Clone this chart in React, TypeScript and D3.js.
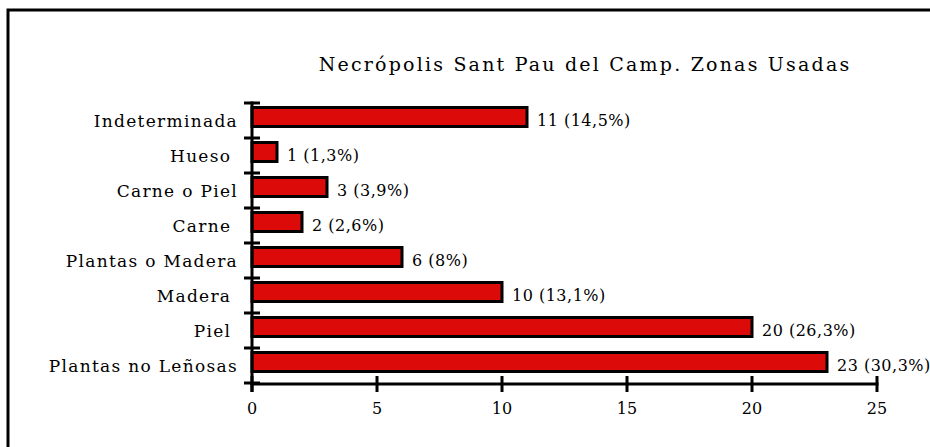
import React from "react";
import * as d3 from "d3";

const categories = [
  "Indeterminada",
  "Hueso ",
  "Carne o Piel",
  "Carne ",
  "Plantas o Madera",
  "Madera ",
  "Piel ",
  "Plantas no Leñosas",
];
const values = [11, 1, 3, 2, 6, 10, 20, 23];
const valueLabels = [
  "11 (14,5%)",
  "1 (1,3%)",
  "3 (3,9%)",
  "2 (2,6%)",
  "6 (8%)",
  "10 (13,1%)",
  "20 (26,3%)",
  "23 (30,3%)",
];
const xTicks = [0, 5, 10, 15, 20, 25];
const title = "Necrópolis Sant Pau del Camp. Zonas Usadas";

const W = 930;
const H = 447;
const FONT = "'DejaVu Serif', serif";

export default function App() {
  const x = d3.scaleLinear().domain([0, 25]).range([252, 877]);
  const y = d3.scaleBand<string>().domain(categories).range([103, 383]).padding(0);
  const bw = y.bandwidth();
  const boundaries = categories.map((c) => y(c) as number).concat([383]);

  return (
    <svg
      width={W}
      height={H}
      style={{ position: "absolute", left: 0, top: 0, background: "#fff" }}
    >
      <rect x={8} y={10} width={1200} height={1200} fill="#fff" stroke="#000" strokeWidth={3} />
      <text
        x={585}
        y={71}
        textAnchor="middle"
        fontFamily={FONT}
        fontSize={19}
        letterSpacing={2.2}
        fill="#000"
      >
        {title}
      </text>

      {categories.map((c, i) => {
        const y0 = y(c) as number;
        return (
          <g key={c}>
            <rect
              x={x(0)}
              y={y0 + 4.5}
              width={x(values[i]) - x(0)}
              height={bw - 16}
              fill="#dc0a08"
              stroke="#000"
              strokeWidth={3}
            />
            <text
              x={238}
              y={y0 + bw / 2 + 6}
              textAnchor="end"
              fontFamily={FONT}
              fontSize={17}
              letterSpacing={1.3}
              fill="#000"
              style={{ whiteSpace: "pre" }}
            >
              {c}
            </text>
            <text
              x={x(values[i]) + 10}
              y={y0 + bw / 2 + 5}
              textAnchor="start"
              fontFamily={FONT}
              fontSize={16}
              letterSpacing={0.5}
              fill="#000"
            >
              {valueLabels[i]}
            </text>
          </g>
        );
      })}

      {/* y axis */}
      <line x1={252} x2={252} y1={101.5} y2={392} stroke="#000" strokeWidth={3} />
      {boundaries.map((b, i) => (
        <line key={"yt" + i} x1={244} x2={260} y1={b} y2={b} stroke="#000" strokeWidth={3} />
      ))}

      {/* x axis */}
      <line x1={250.5} x2={878.5} y1={384} y2={384} stroke="#000" strokeWidth={3} />
      {xTicks.map((t) => (
        <g key={"xt" + t}>
          <line x1={x(t)} x2={x(t)} y1={376} y2={392} stroke="#000" strokeWidth={3} />
          <text
            x={x(t)}
            y={414}
            textAnchor="middle"
            fontFamily={FONT}
            fontSize={16}
            fill="#000"
          >
            {t}
          </text>
        </g>
      ))}
    </svg>
  );
}
